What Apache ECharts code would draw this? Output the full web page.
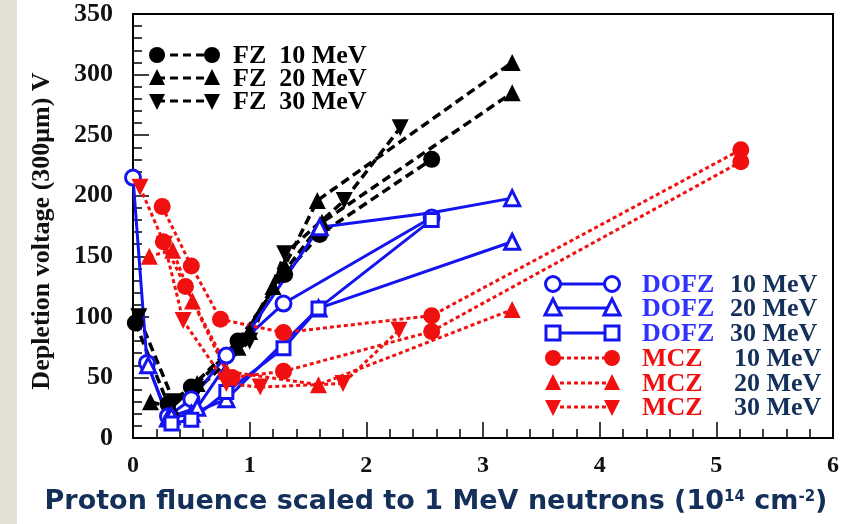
<!DOCTYPE html>
<html>
<head>
<meta charset="utf-8">
<script src="https://cdn.jsdelivr.net/npm/echarts@6/dist/echarts.min.js"></script>
<style>
  html, body { margin: 0; padding: 0; background: #fff; }
  #chart { width: 842px; height: 524px; }
</style>
</head>
<body>
<div id="chart"></div>
<script>
// fluence (1e14 cm-2), depletion voltage (V)
var fz10 = [[0.02, 95], [0.3, 28], [0.5, 42], [0.9, 80], [1.3, 135], [1.6, 168], [2.56, 230]];
var fz20 = [[0.15, 30], [0.33, 25], [0.55, 45], [1.0, 88], [1.3, 142], [1.58, 196], [3.25, 310]];
var fz20b = [[0.9, 75], [1.2, 125], [1.62, 178], [3.25, 285]];
var fz30 = [[0.05, 100], [0.35, 30], [0.55, 40], [1.0, 80], [1.3, 152], [1.81, 196], [2.29, 256]];

var dofz10 = [[0.0, 215], [0.12, 62], [0.3, 18], [0.5, 32], [0.8, 68], [1.29, 111], [2.56, 182]];
var dofz20 = [[0.13, 60], [0.3, 16], [0.5, 20], [0.8, 32], [1.59, 107], [3.25, 162]];
var dofz20b = [[0.33, 18], [0.55, 25], [1.6, 174], [2.56, 186], [3.25, 198]];
var dofz30 = [[0.33, 12], [0.5, 15], [0.8, 38], [1.29, 74], [1.59, 107], [2.56, 180]];

var mcz10 = [[0.25, 191], [0.5, 142], [0.75, 98], [1.29, 87], [2.56, 101], [5.21, 238]];
var mcz10b = [[0.26, 162], [0.45, 125], [0.85, 50], [1.29, 55], [2.56, 88], [5.21, 228]];
var mcz20 = [[0.14, 150], [0.34, 155], [0.51, 113], [0.8, 55], [1.59, 44], [3.25, 106]];
var mcz30 = [[0.06, 207], [0.27, 160], [0.43, 97], [0.8, 45], [1.09, 42], [1.8, 45], [2.28, 89]];

var xTicks = [0, 1, 2, 3, 4, 5, 6];
var yTicks = [0, 50, 100, 150, 200, 250, 300, 350];

var BLACK = '#000000';
var BLUE = '#1414f0';
var RED = '#f01010';
var NAVY = '#14305a';
var SERIF = '"Liberation Serif", "Times New Roman", serif';

function mkSeries(name, data, color, sym, hollow, dash, rot) {
  var w = color == BLACK ? 3.5 : 3;
  return {
    name: name,
    type: 'line',
    data: data,
    symbol: sym,
    symbolRotate: rot || 0,
    symbolSize: sym == 'rect' ? 13 : (hollow ? 15 : 17),
    lineStyle: { color: color, width: w, type: dash },
    itemStyle: hollow ? { color: '#fff', borderColor: color, borderWidth: 3 } : { color: color },
    emphasis: { disabled: true },
    animation: false
  };
}

var dashB = [9, 5];
var dotR = [4, 3];

var series = [
  mkSeries('FZ 10 MeV', fz10, BLACK, 'circle', false, dashB),
  mkSeries('FZ 20 MeV', fz20, BLACK, 'triangle', false, dashB),
  mkSeries('FZ 20 MeV b', fz20b, BLACK, 'triangle', false, dashB),
  mkSeries('FZ 30 MeV', fz30, BLACK, 'triangle', false, dashB, 180),
  mkSeries('DOFZ 10 MeV', dofz10, BLUE, 'circle', true, 'solid'),
  mkSeries('DOFZ 20 MeV', dofz20, BLUE, 'triangle', true, 'solid'),
  mkSeries('DOFZ 20 MeV b', dofz20b.map(function (p) {
    return p[0] == 2.56 ? { value: p, symbol: 'none' } : p;
  }), BLUE, 'triangle', true, 'solid'),
  mkSeries('DOFZ 30 MeV', dofz30, BLUE, 'rect', true, 'solid'),
  mkSeries('MCZ 10 MeV', mcz10, RED, 'circle', false, dotR),
  mkSeries('MCZ 10 MeV b', mcz10b, RED, 'circle', false, dotR),
  mkSeries('MCZ 20 MeV', mcz20, RED, 'triangle', false, dotR),
  mkSeries('MCZ 30 MeV', mcz30, RED, 'triangle', false, dotR, 180)
];

// legend samples drawn by hand: line with a marker at each end
function marker(shape, x, y, color, hollow) {
  var st = { fill: hollow ? '#fff' : color, stroke: color, lineWidth: hollow ? 3 : 0 };
  if (shape == 'circle') return { type: 'circle', shape: { cx: x, cy: y, r: hollow ? 7.5 : 8 }, style: st, z: 20 };
  if (shape == 'rect') return { type: 'rect', shape: { x: x - 7, y: y - 7, width: 14, height: 14 }, style: st, z: 20 };
  if (shape == 'up') return { type: 'polygon', shape: { points: [[x, y - 9], [x - 8, y + 7], [x + 8, y + 7]] }, style: st, z: 20 };
  return { type: 'polygon', shape: { points: [[x, y + 9], [x - 8, y - 7], [x + 8, y - 7]] }, style: st, z: 20 };
}
function legendRow(x1, x2, y, shape, color, hollow, dash) {
  return [
    { type: 'line', shape: { x1: x1, y1: y, x2: x2, y2: y }, style: { stroke: color, lineWidth: 3, lineDash: dash }, z: 19 },
    marker(shape, x1, y, color, hollow),
    marker(shape, x2, y, color, hollow)
  ];
}
function label(txt, x, y, color) {
  return { type: 'text', x: x, y: y, z: 21, style: {
    text: txt, fill: color, font: 'bold 26px ' + SERIF, verticalAlign: 'middle', align: 'left'
  } };
}

var supStyle = { fontSize: 15, fontWeight: 'bold', fontFamily: '"DejaVu Sans", sans-serif', fill: NAVY,
  verticalAlign: 'bottom', padding: [0, 0, 11, 0] };

var graphics = [
  { type: 'rect', shape: { x: 0, y: 0, width: 17, height: 524 }, style: { fill: '#e2e0d2' }, z: 1 },
  { type: 'text', x: 42, y: 231, rotation: Math.PI / 2, z: 21, style: {
    text: 'Depletion voltage (300\u03bcm) V', fill: '#111', font: 'bold 26px ' + SERIF,
    align: 'center', verticalAlign: 'middle'
  } },
  { type: 'text', x: 436, y: 502, z: 21, style: {
    text: 'Proton fluence scaled to 1 MeV neutrons (10{s|14} cm{s|-2})',
    fill: NAVY, fontFamily: '"DejaVu Sans", sans-serif', fontWeight: 'bold', fontSize: 27,
    align: 'center', verticalAlign: 'middle',
    rich: { s: supStyle }
  } }
];

var topRows = [['circle', 'FZ  10 MeV', 55], ['up', 'FZ  20 MeV', 78], ['down', 'FZ  30 MeV', 101]];
topRows.forEach(function (r) {
  graphics = graphics.concat(legendRow(157, 212, r[2], r[0], BLACK, false, [8, 5]));
  graphics.push(label(r[1], 233, r[2] + 1, BLACK));
});

var rightRows = [
  ['circle', 'DOFZ', '10 MeV', 284, BLUE, true, null],
  ['up', 'DOFZ', '20 MeV', 308, BLUE, true, null],
  ['rect', 'DOFZ', '30 MeV', 333, BLUE, true, null],
  ['circle', 'MCZ', '10 MeV', 358, RED, false, [4, 3]],
  ['up', 'MCZ', '20 MeV', 383, RED, false, [4, 3]],
  ['down', 'MCZ', '30 MeV', 407, RED, false, [4, 3]]
];
rightRows.forEach(function (r) {
  graphics = graphics.concat(legendRow(553, 612, r[3], r[0], r[4], r[5], r[6]));
  graphics.push(label(r[1], 642, r[3] + 1, r[4] == BLUE ? '#3030ff' : RED));
  graphics.push(label(r[2], r[1] == 'MCZ' ? 734 : 730, r[3] + 1, NAVY));
});

var chart = echarts.init(document.getElementById('chart'), null, { renderer: 'canvas' });
chart.setOption({
  animation: false,
  backgroundColor: '#ffffff',
  grid: { left: 133, right: 9, top: 14, bottom: 86, show: true, borderColor: '#000', borderWidth: 2, backgroundColor: 'transparent' },
  xAxis: {
    type: 'value', min: xTicks[0], max: xTicks[xTicks.length - 1], interval: 1,
    axisLine: { lineStyle: { color: '#000', width: 2 } },
    axisTick: { inside: true, length: 16, lineStyle: { color: '#000', width: 1.5 } },
    minorTick: { show: true, splitNumber: 5, length: 9, lineStyle: { color: '#000', width: 1.5 } },
    splitLine: { show: false },
    axisLabel: { fontFamily: SERIF, fontWeight: 'bold', fontSize: 24, color: '#111', margin: 16 }
  },
  yAxis: {
    type: 'value', min: yTicks[0], max: yTicks[yTicks.length - 1], interval: 50,
    axisLine: { lineStyle: { color: '#000', width: 2 } },
    axisTick: { inside: true, length: 16, lineStyle: { color: '#000', width: 1.5 } },
    minorTick: { show: true, splitNumber: 5, length: 9, lineStyle: { color: '#000', width: 1.5 } },
    splitLine: { show: false },
    axisLabel: { fontFamily: SERIF, fontWeight: 'bold', fontSize: 26, color: '#111', margin: 20 }
  },
  series: series,
  graphic: graphics
});
</script>
</body>
</html>
